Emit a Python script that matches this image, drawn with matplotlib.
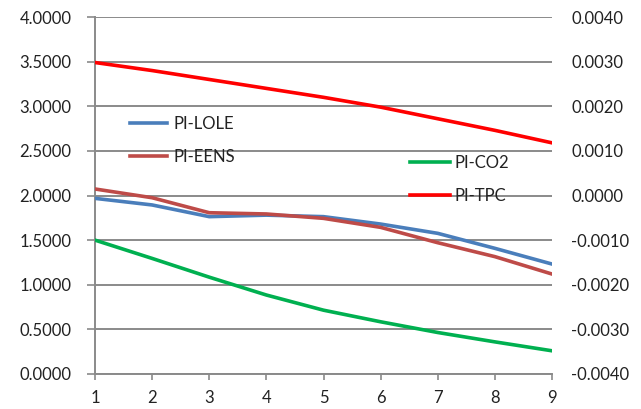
import matplotlib
matplotlib.use("Agg")
import matplotlib.pyplot as plt

x = [1, 2, 3, 4, 5, 6, 7, 8, 9]
pi_lole = [1.968, 1.894, 1.763, 1.780, 1.763, 1.680, 1.576, 1.408, 1.232]
pi_eens = [2.073, 1.975, 1.807, 1.793, 1.744, 1.643, 1.471, 1.315, 1.120]
pi_co2 = [-0.00100, -0.00141, -0.00183, -0.00223, -0.00257, -0.00283, -0.00307, -0.00328, -0.00348]
pi_tpc = [0.00298, 0.00280, 0.00260, 0.00240, 0.00220, 0.00198, 0.00172, 0.00146, 0.00118]

left_ticks = [0, 0.5, 1.0, 1.5, 2.0, 2.5, 3.0, 3.5, 4.0]
right_ticks = [-0.004, -0.003, -0.002, -0.001, 0.0, 0.001, 0.002, 0.003, 0.004]

plt.rcParams['font.family'] = ['Lato', 'DejaVu Sans']
fs = 12
fig = plt.figure(figsize=(6.41, 4.09), dpi=100)
ax = fig.add_axes([95/641, 1-374/409, (552-95)/641, (374-17)/409])
ax2 = ax.twinx()

grid_c = '#8a8a8a'
for t in left_ticks:
    ax.axhline(t, color=grid_c, lw=1.4, zorder=0)

lw = 2.6
l1, = ax.plot(x, pi_lole, color='#4a7ebb', lw=lw, label='PI-LOLE', zorder=3)
l2, = ax.plot(x, pi_eens, color='#be4b48', lw=lw, label='PI-EENS', zorder=3)
l3, = ax2.plot(x, pi_co2, color='#00b050', lw=lw, label='PI-CO2')
l4, = ax2.plot(x, pi_tpc, color='#ff0000', lw=lw, label='PI-TPC')

ax.set_xlim(1, 9)
ax.set_ylim(0, 4)
ax2.set_ylim(-0.004, 0.004)
ax.set_xticks(x)
ax.set_yticks(left_ticks)
ax.set_yticklabels([f"{v:.4f}" for v in left_ticks], fontsize=fs, color='#222222')
ax2.set_yticks(right_ticks)
ax2.set_yticklabels([f"{v:.4f}" for v in right_ticks], fontsize=fs, color='#222222')
ax.set_xticklabels([str(v) for v in x], fontsize=fs, color='#222222')

for a in (ax, ax2):
    for s in ('top', 'right'):
        a.spines[s].set_visible(False)
ax2.spines['left'].set_visible(False)
ax2.spines['bottom'].set_visible(False)
ax.spines['left'].set_color(grid_c)
ax.spines['bottom'].set_color(grid_c)
ax.spines['left'].set_linewidth(1.4)
ax.spines['bottom'].set_linewidth(1.4)
ax.tick_params(axis='y', color=grid_c, width=1.2, length=6, pad=11)
ax.tick_params(axis='x', color=grid_c, width=1.2, length=4.5, pad=7)
ax2.tick_params(axis='y', length=0, pad=14)

leg1 = fig.legend(handles=[l1, l2], loc='center left',
                  bbox_to_anchor=(130/641, 1-140.5/409), frameon=False,
                  fontsize=fs, handlelength=2.2, handletextpad=0.4,
                  labelspacing=1.05, borderpad=0, borderaxespad=0)
for t in leg1.get_texts():
    t.set_color('#222222')
leg2 = fig.legend(handles=[l3, l4], loc='center left',
                  bbox_to_anchor=(410/641, 1-179.5/409), frameon=False,
                  fontsize=fs, handlelength=2.4, handletextpad=0.3,
                  labelspacing=1.05, borderpad=0, borderaxespad=0)
for t in leg2.get_texts():
    t.set_color('#222222')

fig.savefig('out.png', dpi=100)
